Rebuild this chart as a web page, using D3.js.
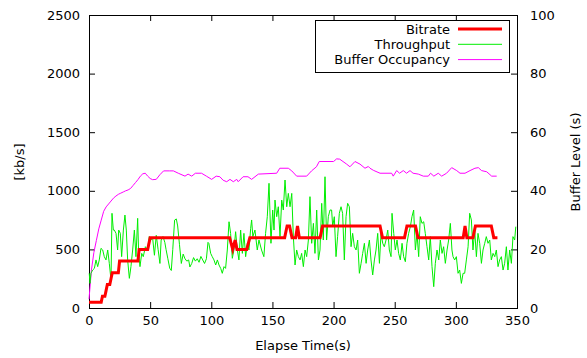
<!DOCTYPE html>
<html>
<head>
<meta charset="utf-8">
<script src="https://cdn.jsdelivr.net/npm/d3@7"></script>
<style>
  body { margin: 0; background: #fff; }
  text { font-family: "DejaVu Sans", sans-serif; font-size: 13px; fill: #000; }
</style>
</head>
<body>
<div id="chart"></div>
<script>
// [time s, kb/s]
var bitrate = [[0,50],[10,50],[11,100],[13,100],[14,150],[15,200],[17,200],[18,250],[19,300],[24,300],
  [25,400],[40,400],[41,500],[48,500],[50,600],[115,600],[117.5,500],[119.5,580],[121,500],[129,500],
  [131.5,600],[160,600],[162,700],[164,700],[166,600],[169,600],[170.5,700],[172,600],[189,600],[191,700],
  [238,700],[240,600],[258,600],[260,700],[267,700],[269,600],[306,600],[307.5,700],[309,600],[314,600],
  [316,700],[329,700],[331,600],[334,600]];

// [time s, kb/s]
var throughput = [[0.2,296],[0.8,210],[1.6,296],[3,324],[4.4,338],[5.7,410],[7.1,353],[8.4,410],[9.8,509],
  [11.2,495],[12.5,438],[13.9,410],[15.3,495],[16.6,381],[18,239],[18.8,808],[19.9,665],[20.7,665],[22.1,637],
  [23.4,495],[24.3,665],[25.6,637],[26.7,438],[28.1,665],[29.4,793],[30.5,665],[31.6,410],[33,253],[34.3,353],
  [35.7,495],[37.1,665],[38.4,438],[39.8,765],[40.6,466],[41.7,353],[43.1,466],[44.4,438],[46.1,523],[47.9,495],
  [49.3,609],[50.7,580],[52,600],[53.5,450],[55,620],[56.5,500],[58,380],[59,580],[60.5,610],[62,560],[63,500],
  [64.5,420],[66,340],[67.3,320],[68.5,500],[70,750],[71.4,760],[72.5,700],[74,540],[75.5,380],[77,460],
  [78.5,420],[80,400],[81.5,410],[82.5,350],[84,380],[85.5,430],[87,400],[88.5,420],[90,390],[91.5,440],
  [93,410],[94.5,380],[96,420],[97.3,560],[98,552],[99.5,466],[100.8,438],[102.2,410],[103.6,367],[105,410],
  [106.3,367],[107.7,338],[109,296],[110.4,353],[111.7,338],[113.1,495],[114.5,736],[115.8,637],[117.2,424],
  [118.5,495],[119.9,651],[121.3,495],[122.6,410],[124,665],[125.4,466],[126.7,637],[128.1,438],[129.5,552],
  [130.8,495],[132.2,680],[133,751],[134,609],[135.7,665],[137.6,495],[139,580],[141.1,495],[143,438],
  [144.4,637],[145.8,779],[147.2,1064],[148.8,552],[150.2,836],[151.3,665],[152.1,921],[153.5,779],[154.8,864],
  [156.2,609],[157.6,921],[158.9,836],[160.3,1092],[161.7,864],[163,978],[164.4,864],[165.8,978],[167.1,609],
  [168.5,367],[169.8,495],[171.2,438],[172.6,410],[173.9,466],[175.3,353],[176.7,495],[178,438],[179.4,580],
  [180.7,950],[182.1,552],[183.5,722],[184.8,466],[186.2,836],[187.6,410],[188.9,495],[190.3,893],[191.6,580],
  [193,1120],[194.3,580],[195.7,779],[197.1,836],[198.4,836],[199.3,694],[200.6,779],[202,438],[203.3,609],
  [204.7,808],[206.1,864],[207.4,808],[208.8,410],[210.2,779],[211.5,893],[212.9,864],[214.3,523],[215.6,637],
  [217,523],[218.4,495],[219.7,580],[221.1,296],[222.5,381],[223.8,466],[225.2,552],[226.6,381],[227.9,495],
  [229.3,580],[230.6,410],[232,282],[233.4,410],[234.7,495],[236.1,637],[237.5,381],[238.8,637],[240.2,552],
  [241.5,523],[242.9,580],[244.3,665],[245.6,495],[247,438],[247.8,808],[249.2,637],[250.5,495],[251.9,580],
  [253.2,466],[254.6,410],[256,552],[257.3,438],[258.7,395],[260,552],[261.4,637],[262.8,694],[264.1,779],
  [265.5,836],[266.9,495],[268.2,637],[269.6,438],[270.9,779],[272.3,722],[273.7,736],[275,637],[276.4,523],
  [277.8,410],[279.1,609],[280.5,353],[281.9,182],[283.2,381],[284.6,495],[286,410],[287.3,580],[288.7,466],
  [290,523],[291.4,381],[292.8,495],[294.1,580],[295.5,722],[296.8,495],[297.7,438],[299,410],[300.4,438],
  [301.8,296],[303.1,324],[304.5,210],[305.9,296],[307.2,296],[308.6,410],[310,523],[311.3,808],[312.7,751],
  [314,495],[315.4,665],[316.8,438],[318.1,637],[319.5,552],[320.9,381],[322.2,495],[323.6,552],[324.9,609],
  [326.3,552],[327.7,580],[329,410],[330.4,466],[331.8,438],[333.1,495],[334.5,353],[335.8,410],[337.2,438],
  [338.6,324],[339.9,381],[341.3,523],[342.6,324],[344,495],[345.4,381],[346.7,609],[348.1,580],[349,694]];

// [time s, buffer level s]
var buffer = [[0,3],[2,13],[4,19],[6,23],[8,27],[10,30],[12,33],[14,34.5],[16,35.5],[18,36.5],[20,37.5],
  [22,38.2],[24,38.8],[26,39.2],[28,39.6],[30,40],[32,40.3],[34,40.8],[36,41.8],[38,42.8],[40,43.8],[42,45],
  [44,45.8],[46,46],[48,45],[50,44.2],[52,43.8],[55,43.9],[58,45.5],[61,46.8],[66,46.8],[69,46.8],[73,46],
  [78.5,45],[81,45.7],[84,45],[87,46],[92,46],[96,45],[100.3,43.9],[104,45],[107,44.8],[109.7,43.6],
  [112.6,43.1],[115.3,43.9],[118,43.1],[120.8,43.9],[122,43.1],[126,44.8],[130,44.8],[133,43.9],[138.5,45.7],
  [153.5,46],[156,47.7],[163,47.7],[165.8,46.8],[169.8,45],[178,45],[182,46.8],[186,48.2],[188.3,50],
  [200,50],[202.5,50.9],[205,50.8],[210.7,49.1],[213.4,48.2],[217.5,50],[221.6,49.1],[225.7,47.7],[228.4,48.3],
  [229.8,47.7],[232.5,47],[238,46],[247.5,46],[248.8,45],[251.6,46.9],[254,46],[257,46.9],[259.7,46],
  [262.5,46.9],[265,46],[269.3,45.7],[273.4,45],[277.5,45],[279.3,46],[282,45],[285.6,46],[288.4,45],
  [292.4,46],[296.6,47.9],[300.7,46.9],[303.4,46],[307.5,46],[311.6,46.9],[315.6,47.7],[318.4,47.9],
  [321,46.9],[325.2,46.5],[329.3,45],[333.4,45]];

var xTicks = [0, 50, 100, 150, 200, 250, 300, 350];
var yTicks = [0, 500, 1000, 1500, 2000, 2500];
var y2Ticks = [0, 20, 40, 60, 80, 100];
var legendNames = ["Bitrate", "Throughput", "Buffer Occupancy"];

var svgWidth = 587;
var svgHeight = 358;
var margin = {top: 15, right: 70, bottom: 50, left: 89};
var width = svgWidth - margin.left - margin.right;
var height = svgHeight - margin.top - margin.bottom;

var svg = d3.select("#chart")
  .append("svg")
  .attr("width", svgWidth)
  .attr("height", svgHeight);

var chartMain = svg.append("g")
  .attr("transform", `translate(${margin.left}, ${margin.top})`);

var xScale = d3.scaleLinear().domain([0, 350]).range([0, width]);
var yScale = d3.scaleLinear().domain([0, 2500]).range([height, 0]);
var y2Scale = d3.scaleLinear().domain([0, 100]).range([height, 0]);
var plain = d3.format("d");

function styleAxis(g) {
  g.select(".domain").remove();
  g.selectAll("line").attr("stroke", "#000");
  g.selectAll("text").attr("font-size", null).attr("font-family", null);
}

chartMain.append("g")
  .attr("transform", `translate(0, ${height})`)
  .call(d3.axisBottom(xScale).tickValues(xTicks).tickSize(-6).tickPadding(8).tickFormat(plain))
  .call(styleAxis);

chartMain.append("g")
  .call(d3.axisTop(xScale).tickValues(xTicks).tickSize(-6).tickFormat(""))
  .call(styleAxis);

chartMain.append("g")
  .call(d3.axisLeft(yScale).tickValues(yTicks).tickSize(-6).tickPadding(9).tickFormat(plain))
  .call(styleAxis);

chartMain.append("g")
  .attr("transform", `translate(${width}, 0)`)
  .call(d3.axisRight(y2Scale).tickValues(y2Ticks).tickSize(-6).tickPadding(13).tickFormat(plain))
  .call(styleAxis);

chartMain.append("rect")
  .attr("x", 0.5)
  .attr("y", 0.5)
  .attr("width", width)
  .attr("height", height)
  .attr("fill", "none")
  .attr("stroke", "#000");

var kbLine = d3.line()
  .x(d => xScale(d[0]))
  .y(d => yScale(d[1]));

var bufLine = d3.line()
  .x(d => xScale(d[0]))
  .y(d => y2Scale(d[1]));

chartMain.append("path")
  .datum(buffer)
  .attr("d", bufLine)
  .attr("fill", "none")
  .attr("stroke", "#ff00ff")
  .attr("stroke-width", 1);

chartMain.append("path")
  .datum(throughput)
  .attr("d", kbLine)
  .attr("fill", "none")
  .attr("stroke", "#00ee00")
  .attr("stroke-width", 1);

chartMain.append("path")
  .datum(bitrate)
  .attr("d", kbLine)
  .attr("fill", "none")
  .attr("stroke", "#ff0000")
  .attr("stroke-width", 3);

// legend
var legend = svg.append("g");
legend.append("rect")
  .attr("x", 315.5)
  .attr("y", 20.5)
  .attr("width", 194)
  .attr("height", 52)
  .attr("fill", "#fff")
  .attr("stroke", "#000");

var legendColors = ["#ff0000", "#00ee00", "#ff00ff"];
var legendWidths = [3, 1, 1];
legendNames.forEach(function(name, i) {
  var yy = 29 + i * 15.3;
  legend.append("text")
    .attr("x", 450)
    .attr("y", yy)
    .attr("dy", "0.35em")
    .attr("text-anchor", "end")
    .text(name);
  legend.append("line")
    .attr("x1", 458)
    .attr("x2", 502)
    .attr("y1", yy)
    .attr("y2", yy)
    .attr("stroke", legendColors[i])
    .attr("stroke-width", legendWidths[i]);
});

svg.append("text")
  .attr("transform", "translate(24, 162) rotate(-90)")
  .attr("text-anchor", "middle")
  .text("[kb/s]");

svg.append("text")
  .attr("transform", "translate(580, 162) rotate(-90)")
  .attr("text-anchor", "middle")
  .text("Buffer Level (s)");

svg.append("text")
  .attr("x", 303)
  .attr("y", 350)
  .attr("text-anchor", "middle")
  .text("Elapse Time(s)");
</script>
</body>
</html>
